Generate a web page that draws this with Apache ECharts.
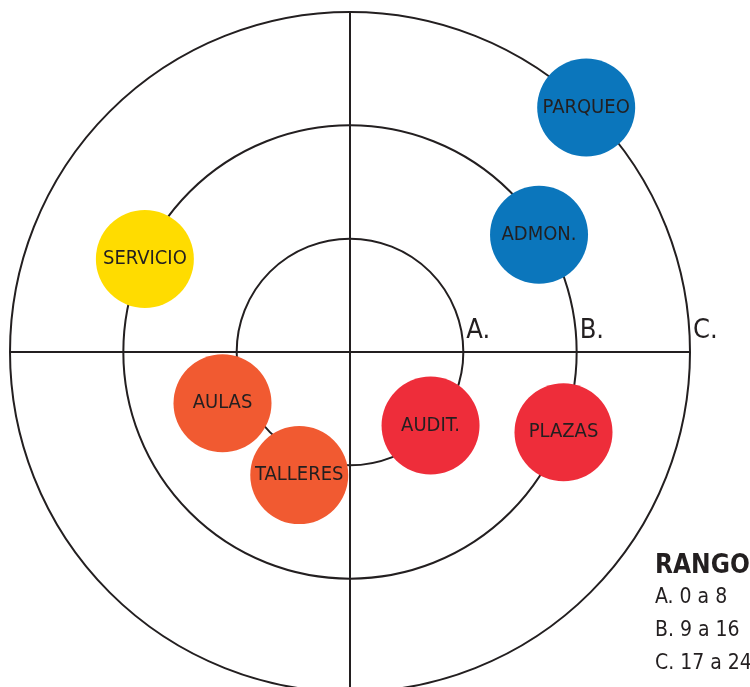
<!DOCTYPE html>
<html lang="es">
<head>
    <meta charset="UTF-8">
    <title>Rango</title>
    <script type="text/javascript" src="https://cdn.jsdelivr.net/npm/echarts@6/dist/echarts.min.js"></script>
    <style>
        html, body { margin: 0; padding: 0; background: #fff; }
    </style>
</head>
<body>
    <div id="main" style="width: 750px;height:687px;"></div>
    <script type="text/javascript">

        // datos: nombre, radio (0-24), angulo (grados)
        var nombres = ['PARQUEO', 'ADMON.', 'SERVICIO', 'AULAS', 'TALLERES', 'AUDIT.', 'PLAZAS'];
        var radios = [24, 15.7, 15.9, 9.7, 9.4, 7.7, 16.1];
        var angulos = [46.0, 31.8, 155.6, 201.9, 247.6, 317.6, 339.4];
        var colores = ['#0B76BC', '#0B76BC', '#FFDC00', '#F15A31', '#F15A31', '#EE2D3A', '#EE2D3A'];

        // etiquetas de los anillos
        var anillos = {8: 'A.', 16: 'B.', 24: 'C.'};
        var rangoTitulo = 'RANGO';
        var rangoLineas = ['A. 0 a 8', 'B. 9 a 16', 'C. 17 a 24'];

        var fuente = '"DejaVu Sans Condensed", "Liberation Sans Narrow", Roboto, sans-serif';
        var tinta = '#231F20';

        var datos = nombres.map(function (n, i) {
            return {
                name: n,
                value: [radios[i], angulos[i]],
                itemStyle: { color: colores[i] }
            };
        });

        var myChart = echarts.init(document.getElementById('main'));

        var option = {
            animation: false,
            title: {
                text: rangoTitulo,
                subtext: rangoLineas.join('\n'),
                left: 650,
                top: 548,
                itemGap: 2,
                textStyle: { fontFamily: fuente, fontSize: 26, fontWeight: 'bold', color: tinta },
                subtextStyle: { fontFamily: fuente, fontSize: 21, color: tinta, lineHeight: 33 }
            },
            polar: {
                center: [350, 352],
                radius: 340
            },
            angleAxis: {
                type: 'value',
                min: 0,
                max: 360,
                interval: 90,
                startAngle: 0,
                clockwise: false,
                axisLine: { show: false },
                axisTick: { show: false },
                axisLabel: { show: false },
                splitLine: { lineStyle: { color: tinta, width: 2 } }
            },
            radiusAxis: {
                type: 'value',
                min: 0,
                max: 24,
                interval: 8,
                axisLine: { show: false },
                axisTick: { show: false },
                splitLine: { lineStyle: { color: tinta, width: 2 } },
                axisLabel: {
                    showMaxLabel: true,
                    formatter: function (v) { return anillos[v] || ''; },
                    fontFamily: fuente,
                    fontSize: 27,
                    color: tinta,
                    align: 'left',
                    verticalAlign: 'bottom',
                    padding: [0, 0, 0, 3]
                }
            },
            series: [{
                type: 'scatter',
                coordinateSystem: 'polar',
                symbolSize: 98,
                clip: false,
                data: datos,
                itemStyle: { opacity: 1 },
                label: {
                    show: true,
                    position: 'inside',
                    formatter: '{b}',
                    fontFamily: fuente,
                    fontSize: 20,
                    color: tinta
                }
            }]
        };

        myChart.setOption(option);

    </script>
</body>
</html>
